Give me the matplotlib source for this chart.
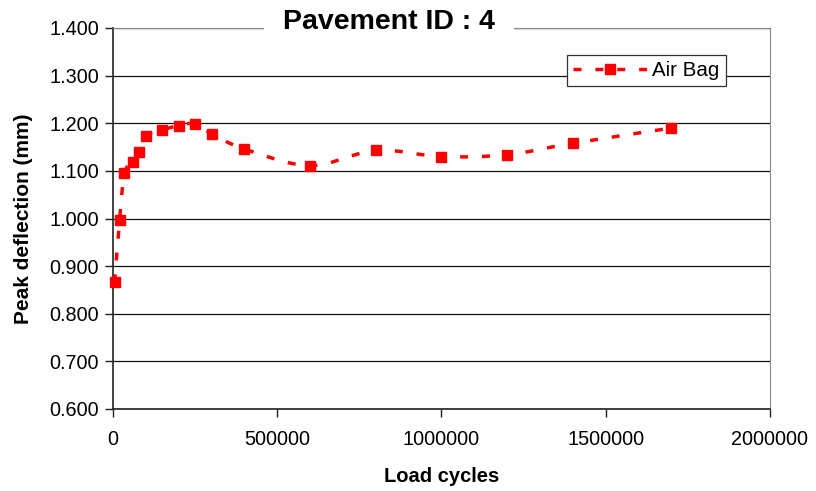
import matplotlib
matplotlib.use('Agg')
import matplotlib.pyplot as plt
from matplotlib.path import Path
from matplotlib.patches import PathPatch
from matplotlib.lines import Line2D
from matplotlib.ticker import FuncFormatter, MultipleLocator
import numpy as np

plt.rcParams['font.family'] = ['Liberation Sans', 'DejaVu Sans']

# Air Bag series
load_cycles = [5000, 20000, 35000, 60000, 80000, 100000, 150000, 200000,
               250000, 300000, 400000, 600000, 800000, 1000000, 1200000,
               1400000, 1700000]
deflection = [0.866, 0.996, 1.095, 1.118, 1.139, 1.174, 1.186, 1.195,
              1.199, 1.178, 1.146, 1.111, 1.143, 1.130, 1.134, 1.158, 1.190]

title = 'Pavement ID : 4'
series_name = 'Air Bag'
red = '#ff0000'
dash = (0, (2.3, 4.0))


# Excel-like smoothed line: cubic Bezier through the points
def smooth_path(xs, ys):
    pts = np.column_stack([xs, ys]).astype(float)
    n = len(pts)
    verts = [pts[0]]
    codes = [Path.MOVETO]
    for i in range(n - 1):
        p0 = pts[i - 1] if i > 0 else pts[i]
        p1 = pts[i]
        p2 = pts[i + 1]
        p3 = pts[i + 2] if i + 2 < n else pts[i + 1]
        c1 = p1 + (p2 - p0) / 6.0
        c2 = p2 - (p3 - p1) / 6.0
        verts += [c1, c2, p2]
        codes += [Path.CURVE4] * 3
    return Path(verts, codes)


fig = plt.figure(figsize=(8.16, 4.91), dpi=100)
ax = fig.add_axes([113 / 816, 82 / 491, 657 / 816, 381 / 491])

patch = PathPatch(smooth_path(load_cycles, deflection), facecolor='none',
                  edgecolor=red, lw=2.5, linestyle=dash, zorder=3,
                  clip_on=False)
ax.add_patch(patch)
ax.plot(load_cycles, deflection, linestyle='none', marker='s', ms=7.5,
        color=red, zorder=4, clip_on=False)

ax.set_xlim(0, 2000000)
ax.set_ylim(0.6, 1.4)
ax.xaxis.set_major_locator(MultipleLocator(500000))
ax.yaxis.set_major_locator(MultipleLocator(0.1))
ax.xaxis.set_major_formatter(FuncFormatter(lambda v, p: f'{int(round(v))}'))
ax.yaxis.set_major_formatter(FuncFormatter(lambda v, p: f'{v:.3f}'))
ax.tick_params(axis='both', labelsize=14.3, direction='out', length=6,
               width=1, color='#222222', pad=4)
ax.tick_params(axis='x', pad=9)

ax.yaxis.grid(True, color='#111111', lw=0.9)
ax.set_axisbelow(True)
ax.get_ygridlines()[-1].set_visible(False)

ax.spines['left'].set_color('#222222')
ax.spines['bottom'].set_color('#222222')
ax.spines['left'].set_linewidth(1.2)
ax.spines['bottom'].set_linewidth(1.2)
ax.spines['top'].set_color('#888888')
ax.spines['right'].set_color('#888888')

ax.set_xlabel('Load cycles', fontsize=14.5, fontweight='bold', labelpad=13)
ax.set_ylabel('Peak deflection (mm)', fontsize=15, fontweight='bold',
              labelpad=12)

fig.text(389 / 816, 1 - 22 / 491, title, ha='center', va='center',
         fontsize=20.5, fontweight='bold',
         bbox=dict(facecolor='white', edgecolor='none', pad=14))

handle = Line2D([], [], color=red, lw=2.5, linestyle=dash,
                marker='s', ms=7.5)
leg = ax.legend([handle], [series_name], loc='upper left',
                bbox_to_anchor=(567 / 816, 1 - 55 / 491),
                bbox_transform=fig.transFigure, fontsize=14.8, frameon=True,
                fancybox=False, framealpha=1, handlelength=3.6,
                borderpad=0.3, handletextpad=0.25, borderaxespad=0)
leg.get_frame().set_edgecolor('#333333')
leg.get_frame().set_linewidth(0.9)

fig.savefig('out.png', dpi=100)
